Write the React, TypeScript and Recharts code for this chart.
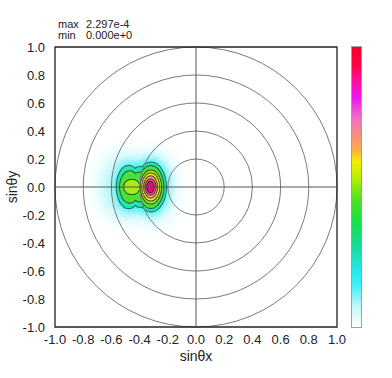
import React from 'react';
import { ComposedChart, XAxis, YAxis, Scatter, ReferenceArea, ReferenceLine, Label } from 'recharts';

// axis ticks
const xTicks = [-1.0, -0.8, -0.6, -0.4, -0.2, 0.0, 0.2, 0.4, 0.6, 0.8, 1.0];
const yTicks = [-1.0, -0.8, -0.6, -0.4, -0.2, 0.0, 0.2, 0.4, 0.6, 0.8, 1.0];

// concentric guide rings (radius in sinθ units)
const ringRadii = [0.2, 0.4, 0.6, 0.8, 1.0];

// intensity peaks (used as scatter anchor)
const peakPoints = [
  { x: -0.322, y: 0.0 },
  { x: -0.46, y: 0.0 },
];

// blob layers, outer to inner: each lobe = centre x, half-width, half-height
const glowOuter = [
  { cx: -0.5, rx: 0.18, ry: 0.24 },
  { cx: -0.3, rx: 0.14, ry: 0.25 },
];
const glowInner = [
  { cx: -0.478, rx: 0.1, ry: 0.175 },
  { cx: -0.4, rx: 0.085, ry: 0.165 },
  { cx: -0.318, rx: 0.122, ry: 0.2 },
];
const contourA = [
  { cx: -0.478, rx: 0.084, ry: 0.152 },
  { cx: -0.4, rx: 0.07, ry: 0.142 },
  { cx: -0.318, rx: 0.105, ry: 0.175 },
];
const contourB = [
  { cx: -0.47, rx: 0.069, ry: 0.112 },
  { cx: -0.4, rx: 0.06, ry: 0.104 },
  { cx: -0.32, rx: 0.089, ry: 0.15 },
];
const contourC = [
  { cx: -0.455, rx: 0.055, ry: 0.052 },
  { cx: -0.32, rx: 0.072, ry: 0.118 },
];
const contourD = [{ cx: -0.321, rx: 0.06, ry: 0.097 }];
const contourE = [{ cx: -0.322, rx: 0.046, ry: 0.076 }];
const contourF = [{ cx: -0.322, rx: 0.035, ry: 0.056 }];
const contourG = [{ cx: -0.323, rx: 0.022, ry: 0.037 }];

const contourLevels = [
  { lobes: contourA, color: '#26e6b0', line: '#1f6a66' },
  { lobes: contourB, color: '#48e238', line: '#2e5236' },
  { lobes: contourC, color: '#a4ec14', line: '#3a4a2a' },
  { lobes: contourD, color: '#f4ec1c', line: '#4a4a2a' },
  { lobes: contourE, color: '#f8a868', line: '#4a3a30' },
  { lobes: contourF, color: '#f04a92', line: '#4a2a36' },
  { lobes: contourG, color: '#e20c76', line: '#4a1a30' },
];

const ellipseShape = (fill: string, stroke: string, strokeWidth: number, filter?: string) => (props: any) => {
  const { x, y, width, height } = props;
  return (
    <ellipse
      cx={x + width / 2}
      cy={y + height / 2}
      rx={Math.abs(width) / 2}
      ry={Math.abs(height) / 2}
      fill={fill}
      stroke={stroke}
      strokeWidth={strokeWidth}
      filter={filter}
    />
  );
};

const fmt = (v: number) => v.toFixed(1);

export default function App() {
  const font = '"Liberation Sans", Arial, sans-serif';
  const areas: React.ReactNode[] = [];
  glowOuter.forEach((l, i) =>
    areas.push(
      <ReferenceArea key={'go' + i} x1={l.cx - l.rx} x2={l.cx + l.rx} y1={-l.ry} y2={l.ry}
        shape={ellipseShape('#b8f6f8', 'none', 0, 'url(#blurBig)')} />
    )
  );
  glowInner.forEach((l, i) =>
    areas.push(
      <ReferenceArea key={'gi' + i} x1={l.cx - l.rx} x2={l.cx + l.rx} y1={-l.ry} y2={l.ry}
        shape={ellipseShape('#38eef2', 'none', 0, 'url(#blurSmall)')} />
    )
  );
  contourLevels.forEach((lv, j) => {
    lv.lobes.forEach((l, i) =>
      areas.push(
        <ReferenceArea key={`s${j}-${i}`} x1={l.cx - l.rx} x2={l.cx + l.rx} y1={-l.ry} y2={l.ry}
          shape={ellipseShape(lv.color, lv.line, 2)} />
      )
    );
    lv.lobes.forEach((l, i) =>
      areas.push(
        <ReferenceArea key={`f${j}-${i}`} x1={l.cx - l.rx} x2={l.cx + l.rx} y1={-l.ry} y2={l.ry}
          shape={ellipseShape(lv.color, 'none', 0)} />
      )
    );
  });

  return (
    <div style={{ position: 'absolute', left: 0, top: 0, width: 392, height: 378, background: '#fff', fontFamily: font }}>
      <svg width={0} height={0} style={{ position: 'absolute' }}>
        <defs>
          <filter id="blurBig" x="-80%" y="-80%" width="260%" height="260%">
            <feGaussianBlur stdDeviation="9" />
          </filter>
          <filter id="blurSmall" x="-60%" y="-60%" width="220%" height="220%">
            <feGaussianBlur stdDeviation="4" />
          </filter>
        </defs>
      </svg>
      <div style={{ position: 'absolute', left: 58, top: 18.5, fontSize: 11, lineHeight: '11px', color: '#222', whiteSpace: 'pre' }}>max</div>
      <div style={{ position: 'absolute', left: 86, top: 18.5, fontSize: 11, lineHeight: '11px', color: '#222', whiteSpace: 'pre' }}>2.297e-4</div>
      <div style={{ position: 'absolute', left: 58, top: 29.5, fontSize: 11, lineHeight: '11px', color: '#222', whiteSpace: 'pre' }}>min</div>
      <div style={{ position: 'absolute', left: 86, top: 29.5, fontSize: 11, lineHeight: '11px', color: '#222', whiteSpace: 'pre' }}>0.000e+0</div>
      <div
        style={{
          position: 'absolute', left: 351, top: 46, width: 9, height: 280,
          border: '1px solid #a0a0a0',
          background:
            'linear-gradient(to bottom, #f50030 0%, #ff0040 6%, #ff1098 12%, #f014f0 18%, #f06cc8 25%, #f89078 32%, #f8b040 37%, #f4f000 41%, #b0f000 47%, #48e020 55%, #18e040 62%, #18d898 71%, #20e8e8 79%, #40f0f8 85%, #c4f8f8 93%, #ffffff 100%)',
        }}
      />
      <ComposedChart width={392} height={378} margin={{ top: 47, right: 55, bottom: 11, left: 5 }}>
        <XAxis dataKey="x" type="number" domain={[-1, 1]} ticks={xTicks} tickFormatter={fmt} interval={0}
          allowDataOverflow tickLine={false} axisLine={false} height={40}
          tick={{ fill: '#222', fontSize: 13, fontFamily: font }}>
          <Label value="sinθx" position="insideBottom" offset={6} style={{ fill: '#222', fontSize: 14, fontFamily: font }} />
        </XAxis>
        <YAxis dataKey="y" type="number" domain={[-1, 1]} ticks={yTicks} tickFormatter={fmt} interval={0}
          allowDataOverflow tickLine={false} axisLine={false} width={50} tickMargin={4}
          tick={{ fill: '#222', fontSize: 13, fontFamily: font }}>
          <Label
            content={(p: any) => {
              const vb = p.viewBox || {};
              const cx = (vb.x ?? 5) + 7;
              const cy = (vb.y ?? 47) + (vb.height ?? 280) / 2;
              return (
                <text x={cx} y={cy} transform={`rotate(-90, ${cx}, ${cy})`} textAnchor="middle" dominantBaseline="central"
                  style={{ fill: '#222', fontSize: 14, fontFamily: font }}>sinθy</text>
              );
            }}
          />
        </YAxis>
        {areas}
        {ringRadii.map((r) => (
          <ReferenceArea key={'r' + r} x1={-r} x2={r} y1={-r} y2={r} shape={ellipseShape('none', '#7a7a7a', 1)} />
        ))}
        <ReferenceLine x={0} stroke="#555" strokeWidth={1} />
        <ReferenceLine y={0} stroke="#555" strokeWidth={1} />
        <ReferenceArea x1={-1} x2={1} y1={-1} y2={1} fill="none" fillOpacity={0} stroke="#222" strokeWidth={1.3} />
        <Scatter data={peakPoints} dataKey="y" isAnimationActive={false} shape={() => <g />} />
      </ComposedChart>
    </div>
  );
}
